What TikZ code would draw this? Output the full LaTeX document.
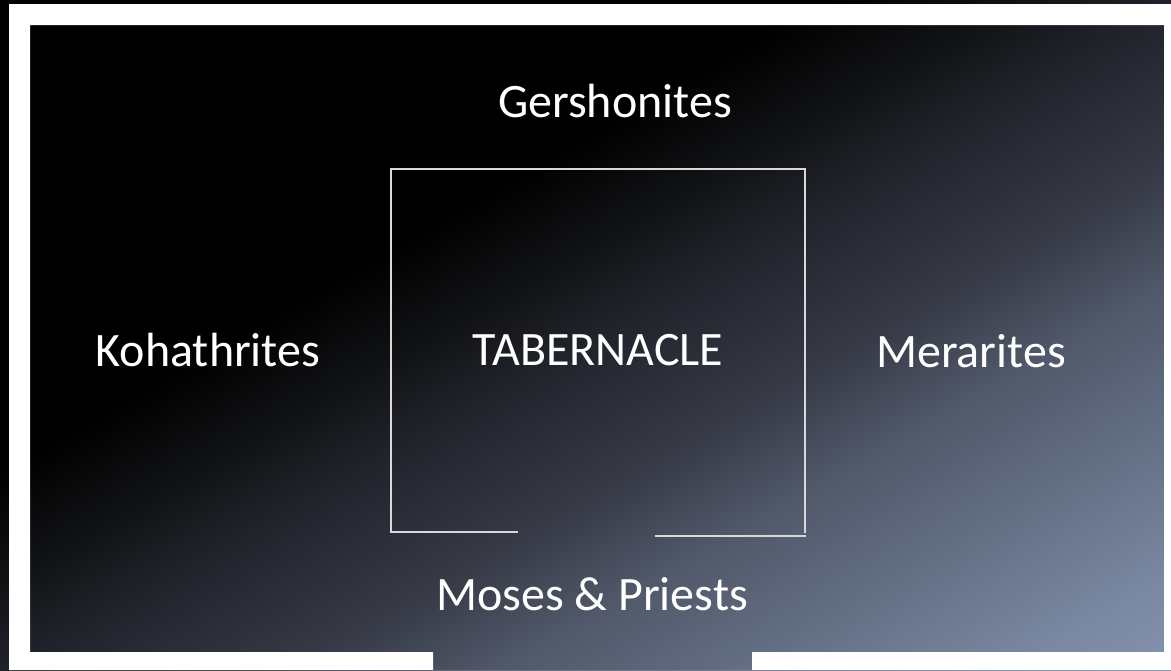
\documentclass[tikz,border=0pt]{standalone}
\usepackage{fontspec}
\setmainfont{Carlito}
\usetikzlibrary{positioning}
\definecolor{wallline}{HTML}{D9D9D9}
\pgfdeclarehorizontalshading{slidebg}{100bp}{%
  rgb(0bp)=(0,0,0); rgb(42.7bp)=(0,0,0);
  rgb(47.1bp)=(0.07,0.075,0.085);
  rgb(50bp)=(0.125,0.135,0.165);
  rgb(56.1bp)=(0.216,0.231,0.278);
  rgb(60.2bp)=(0.314,0.345,0.412);
  rgb(70.9bp)=(0.478,0.533,0.635);
  rgb(74.2bp)=(0.518,0.573,0.686);
  rgb(100bp)=(0.518,0.573,0.686)}
\tikzset{
  camp/.style={text=white, font=\fontsize{48}{58}\selectfont, inner sep=0pt},
  wall/.style={draw=wallline, line width=2pt},
}

\begin{document}
\begin{tikzpicture}[x=1pt, y=-1pt]
    \useasboundingbox (0,0) rectangle (1171,670);
    \begin{scope}
      \clip (0,0) rectangle (1171,670);
      \shade[shading=slidebg, shading angle=-60.2] (-14.5,-265) rectangle (1185.5,935);
    \end{scope}
    \fill[white, even odd rule] (9,4) rectangle (1171,670)
      (30,25) -- (1164,25) -- (1164,652) -- (752,652) -- (752,670)
      -- (433,670) -- (433,652) -- (30,652) -- cycle;
    % walls of the court
    \draw[wall] (518,532) -- (391,532) -- (391,169) -- (805,169) -- (805,533);
    \draw[wall] (655,536) -- (806,536);
    % camps round it
    \node[camp] (gershon) at (615,101) {Gershonites};
    \node[camp] (kohath) at (208,350) {Kohathrites};
    \node[camp] (tabernacle) at (598,350) {TABERNACLE};
    \node[camp] (merari) at (971,351) {Merarites};
    \node[camp] (priests) at (592,594) {Moses \& Priests};
  \end{tikzpicture}
\end{document}
